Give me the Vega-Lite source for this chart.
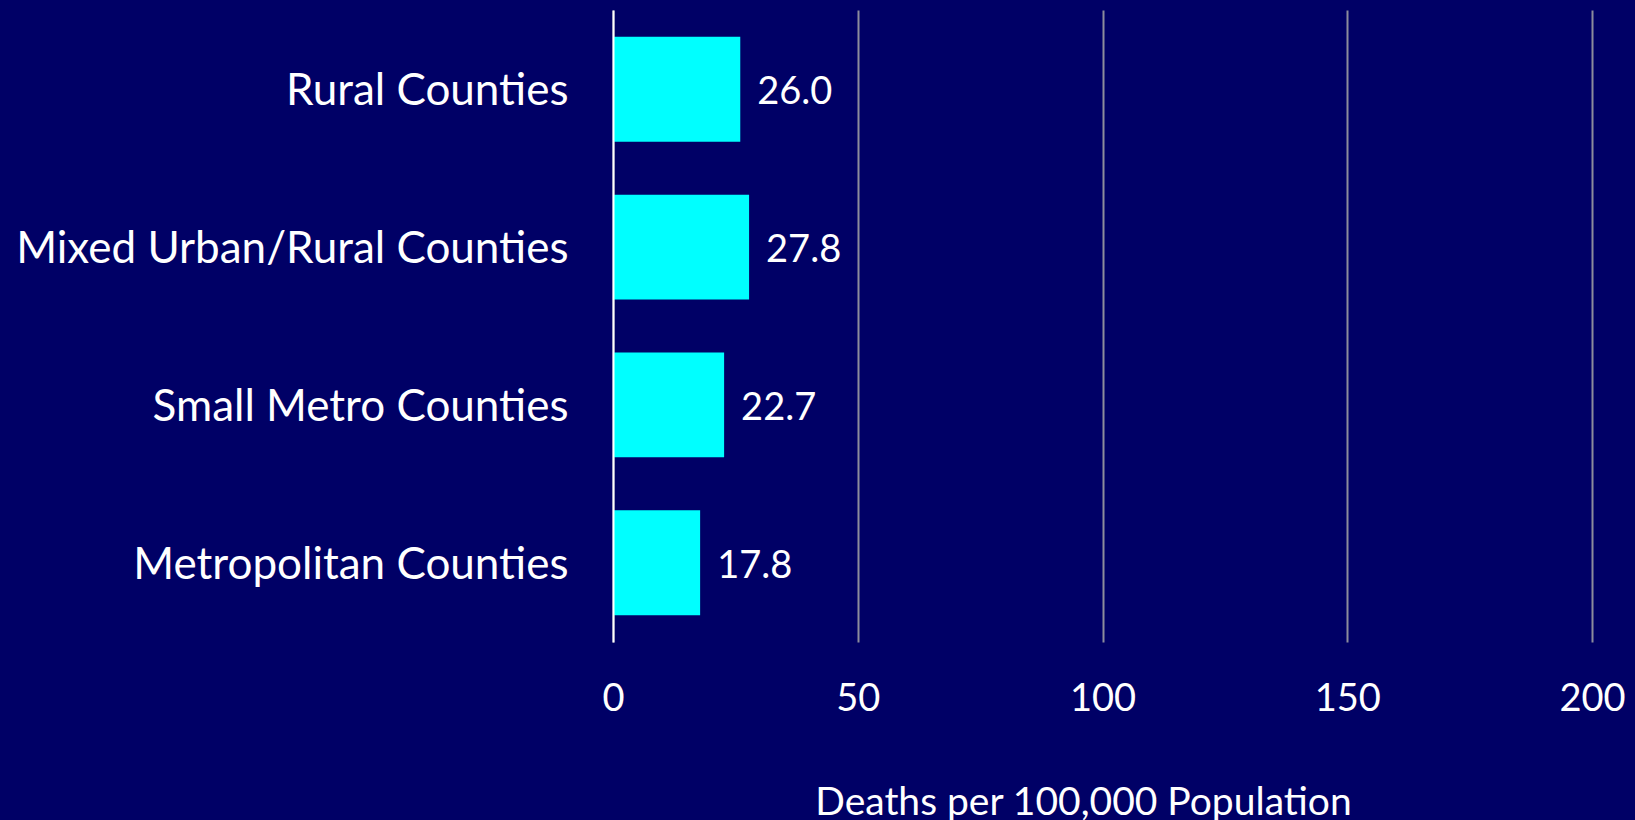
{
  "$schema": "https://vega.github.io/schema/vega-lite/v6.json",
  "width": 979,
  "height": 632,
  "autosize": {"type": "none"},
  "padding": {"left": 613, "top": 10, "right": 43, "bottom": 178},
  "background": "#000066",
  "data": {"values": [
    {"category": "Rural Counties", "rate": 26.0},
    {"category": "Mixed Urban/Rural Counties", "rate": 27.8},
    {"category": "Small Metro Counties", "rate": 22.7},
    {"category": "Metropolitan Counties", "rate": 17.8}
  ]},
  "config": {
    "view": {"stroke": null},
    "font": "Lato"
  },
  "encoding": {
    "y": {
      "field": "category", "type": "nominal", "sort": null,
      "scale": {"paddingInner": 0.335, "paddingOuter": 0.17},
      "axis": {
        "title": null, "ticks": false, "domain": true, "domainColor": "#ffffff", "domainWidth": 2,
        "labelColor": "#ffffff", "labelFont": "Lato", "labelFontSize": 44, "labelPadding": 45,
        "labelLimit": 800, "grid": false, "zindex": 2, "labelOffset": 3
      }
    },
    "x": {
      "field": "rate", "type": "quantitative",
      "scale": {"domain": [0, 200]},
      "axis": {
        "title": "Deaths per 100,000 Population", "values": [0, 50, 100, 150, 200],
        "domain": false, "ticks": false, "grid": true, "gridColor": "#8c8c9c", "gridWidth": 2,
        "labelColor": "#ffffff", "labelFont": "Lato", "labelFontSize": 38, "labelPadding": 38,
        "labelFlush": false,
        "titleColor": "#ffffff", "titleFont": "Lato", "titleFontSize": 39, "titleFontWeight": "normal",
        "titlePadding": 65, "titleX": 470, "titleAnchor": "start", "titleAlign": "center"
      }
    }
  },
  "layer": [
    {"mark": {"type": "bar", "color": "#00ffff"}},
    {"mark": {"type": "text", "align": "left", "baseline": "middle", "dx": 17, "dy": 4, "color": "#ffffff", "fontSize": 38, "font": "Lato"},
     "encoding": {"text": {"field": "rate", "type": "quantitative", "format": ".1f"}}}
  ]
}
